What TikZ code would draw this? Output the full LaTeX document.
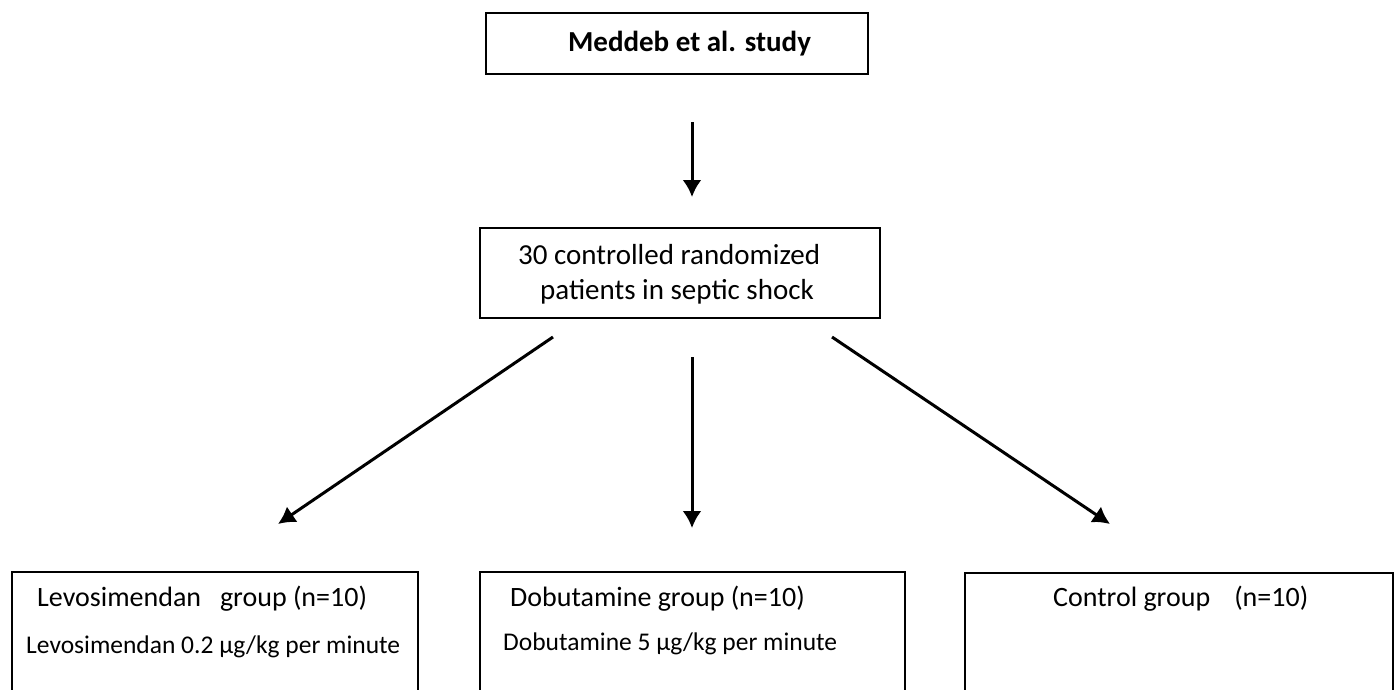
\documentclass[tikz,border=0pt]{standalone}
\usepackage{fontspec}
\setmainfont{Carlito}
\usetikzlibrary{arrows.meta}
\begin{document}
\begin{tikzpicture}[x=1pt,y=-1pt,
  box/.style={draw=black,line width=2.6pt,rectangle,inner sep=0pt},
  txt/.style={inner sep=0pt,anchor=base west,font=\fontsize{28}{32}\selectfont},
  txtsm/.style={txt,font=\fontsize{25.5}{30}\selectfont},
  arr/.style={line width=3pt,-{Latex[length=17pt,width=19pt]}}]
\useasboundingbox (0,0) rectangle (1396,689);
\clip (0,0) rectangle (1396,689);
% boxes
\node[box,minimum width=382pt,minimum height=61pt] (b1) at (677,43.5) {};
\node[box,minimum width=400pt,minimum height=90pt] (b2) at (680,273) {};
\node[box,minimum width=406pt,minimum height=160pt] (b3) at (215,652) {};
\node[box,minimum width=425pt,minimum height=160pt] (b4) at (692.5,652) {};
\node[box,minimum width=428pt,minimum height=160pt] (b5) at (1179,653) {};
% texts
\node[inner sep=0pt,anchor=base,font=\fontsize{29}{33}\selectfont\bfseries] (t1) at (689.5,51) {Meddeb et al. study};
\node[txt,font=\fontsize{29}{33}\selectfont] (t2a) at (518,264) {30 controlled randomized};
\node[txt,font=\fontsize{29}{33}\selectfont] (t2b) at (540,299) {patients in septic shock};
\node[txt] (t3a) at (37,606) {Levosimendan\hspace{0.45em} group (n=10)};
\node[txtsm] (t3b) at (26,653) {Levosimendan 0.2 µg/kg per minute};
\node[txt] (t4a) at (510,606) {Dobutamine group (n=10)};
\node[txtsm] (t4b) at (503,650) {Dobutamine 5 µg/kg per minute};
\node[txt] (t5a) at (1053,606) {Control group\hspace{0.86em}(n=10)};
% arrow end points
\coordinate (a1s) at (692,122);
\coordinate (a1e) at (692,197);
\coordinate (a2s) at (553,337);
\coordinate (a2e) at (278,524);
\coordinate (a3s) at (692,357);
\coordinate (a3e) at (692,528);
\coordinate (a4s) at (832,337);
\coordinate (a4e) at (1110,524);
\draw[arr] (a1s) -- (a1e);
\draw[arr] (a2s) -- (a2e);
\draw[arr] (a3s) -- (a3e);
\draw[arr] (a4s) -- (a4e);
\end{tikzpicture}
\end{document}
